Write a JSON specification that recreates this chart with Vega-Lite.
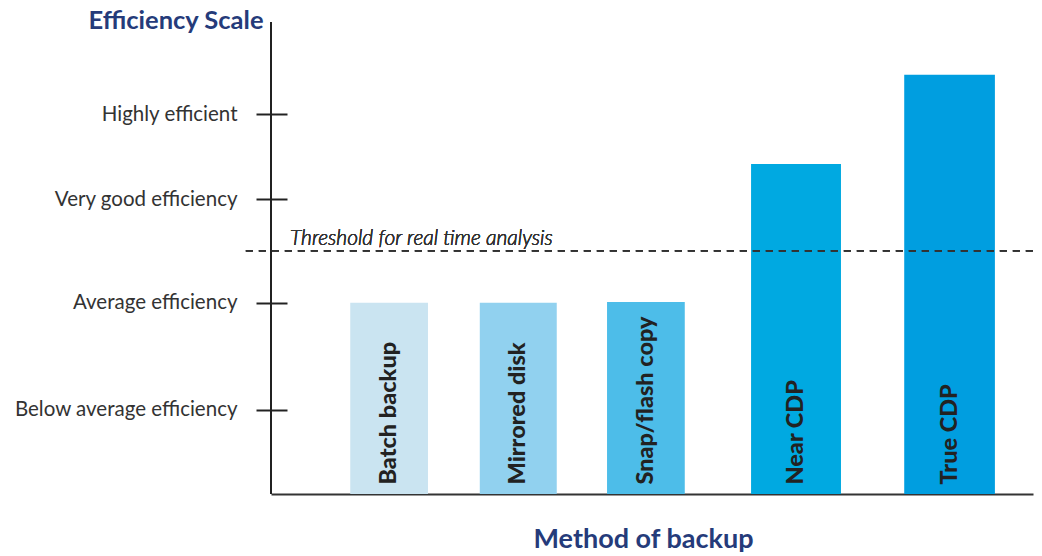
{
  "$schema": "https://vega.github.io/schema/vega-lite/v6.json",
  "width": 762,
  "height": 472,
  "autosize": {"type": "none"},
  "padding": {"left": 271, "top": 22, "right": 9, "bottom": 62},
  "background": "white",
  "config": {"view": {"stroke": null}, "font": "Lato"},
  "data": {
    "values": [
      {"method": "Batch backup", "start": 10.4, "end": 20.6, "center": 15.5, "score": 40.5, "color": "#cae4f1"},
      {"method": "Mirrored disk", "start": 27.4, "end": 37.5, "center": 32.45, "score": 40.5, "color": "#91d1ef"},
      {"method": "Snap/flash copy", "start": 44.1, "end": 54.3, "center": 49.2, "score": 40.7, "color": "#4dbde9"},
      {"method": "Near CDP", "start": 63.0, "end": 74.8, "center": 68.9, "score": 69.9, "color": "#00a9e1"},
      {"method": "True CDP", "start": 83.1, "end": 95.0, "center": 89.05, "score": 88.8, "color": "#009ee0"}
    ]
  },
  "layer": [
    {
      "mark": {"type": "rect"},
      "encoding": {
        "x": {
          "field": "start", "type": "quantitative",
          "scale": {"domain": [0, 100], "nice": false, "zero": false},
          "axis": {
            "title": "Method of backup", "labels": false, "ticks": false, "grid": false,
            "domainColor": "#333333", "domainWidth": 2,
            "titleFont": "Lato", "titleFontSize": 27, "titleFontWeight": "bold", "titleColor": "#253b7a",
            "titlePadding": 32, "titleX": 372
          }
        },
        "x2": {"field": "end"},
        "y": {
          "field": "score", "type": "quantitative",
          "scale": {"domain": [0, 100], "nice": false},
          "axis": {
            "title": "Efficiency Scale",
            "values": [17.8, 40.5, 62.5, 80.5],
            "labelExpr": "datum.value == 17.8 ? 'Below average efficiency' : datum.value == 40.5 ? 'Average efficiency' : datum.value == 62.5 ? 'Very good efficiency' : 'Highly efficient'",
            "domain": false, "grid": false,
            "offset": -16, "tickSize": 31, "tickWidth": 2, "tickColor": "#222222",
            "labelPadding": 19, "labelLimit": 400, "labelFont": "Lato", "labelFontSize": 20.5, "labelColor": "#333333",
            "titleAngle": 0, "titleAlign": "right", "titleBaseline": "alphabetic",
            "titleX": -24, "titleY": 6,
            "titleFont": "Lato", "titleFontSize": 25.5, "titleFontWeight": "bold", "titleColor": "#253b7a"
          }
        },
        "y2": {"datum": 0},
        "color": {"field": "color", "type": "nominal", "scale": null, "legend": null}
      }
    },
    {
      "mark": {"type": "text", "angle": 270, "align": "left", "baseline": "middle", "font": "Lato", "fontSize": 23.5, "fontWeight": 900, "color": "#222222"},
      "encoding": {
        "x": {"field": "center", "type": "quantitative"},
        "y": {"datum": 2.0},
        "text": {"field": "method"}
      }
    },
    {
      "mark": {"type": "rule", "color": "#222222", "strokeWidth": 1.5},
      "encoding": {"x": {"datum": 0}}
    },
    {
      "mark": {"type": "rule", "color": "#333333", "strokeWidth": 1.3, "strokeDash": [7, 6]},
      "encoding": {"x": {"datum": -3.3}, "x2": {"datum": 100}, "y": {"datum": 51.5}}
    },
    {
      "mark": {"type": "text", "align": "left", "baseline": "alphabetic", "font": "Lato", "fontSize": 21, "fontStyle": "italic", "fontWeight": 300, "color": "#333333"},
      "encoding": {"x": {"datum": 2.5}, "y": {"datum": 52.8}, "text": {"value": "Threshold for real time analysis"}}
    }
  ]
}
